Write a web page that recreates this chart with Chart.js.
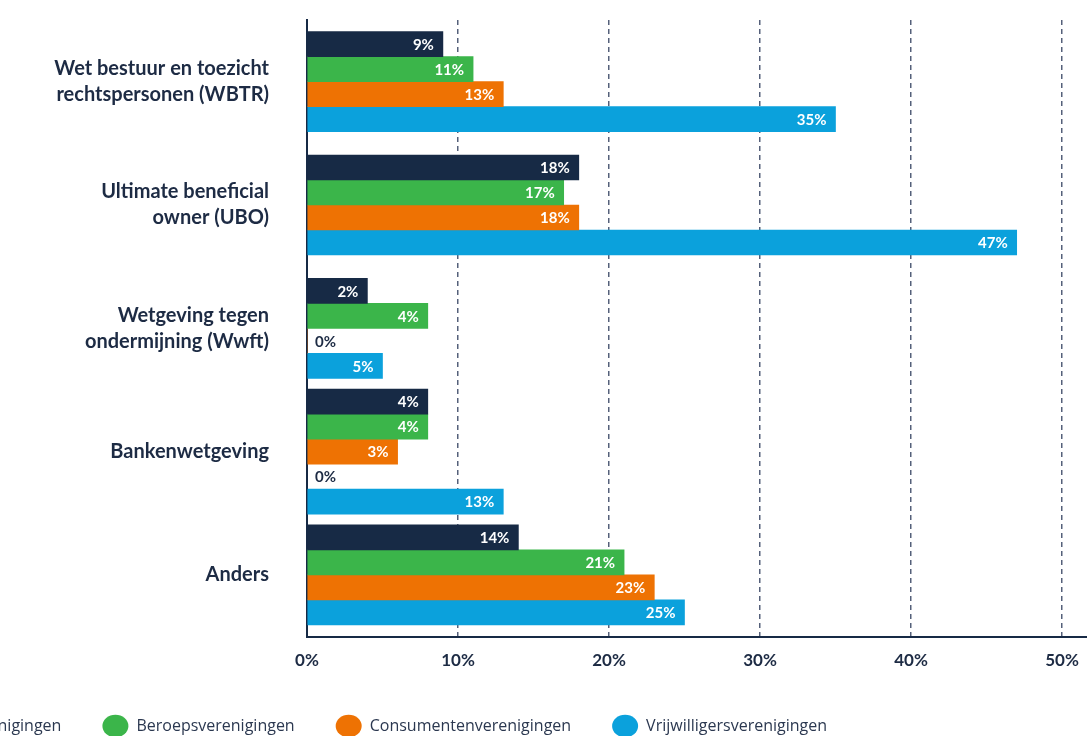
<!DOCTYPE html>
<html>
<head>
<meta charset="utf-8">
<script src="https://cdn.jsdelivr.net/npm/chart.js@4/dist/chart.umd.min.js"></script>
<style>
  html, body { margin: 0; padding: 0; background: #fff; }
  #frame { position: relative; width: 1087px; height: 736px; overflow: hidden; }
  #wrap { position: absolute; left: -164px; top: 0; width: 1377px; height: 736px; }
</style>
</head>
<body>
<div id="frame"><div id="wrap"><canvas id="regChart"></canvas></div></div>
<script>
const categories = [
  ['Wet bestuur en toezicht', 'rechtspersonen (WBTR)'],
  ['Ultimate beneficial', 'owner (UBO)'],
  ['Wetgeving tegen', 'ondermijning (Wwft)'],
  'Bankenwetgeving',
  'Anders'
];
// bar lengths as drawn in the picture
const branche = [9, 18, 4, 8, 14];
const beroeps = [11, 17, 8, 8, 21];
const consumenten = [13, 18, 0, 6, 23];
const extraRow = [null, null, null, 0, null];
const vrijwilligers = [35, 47, 5, 13, 25];
// percentages printed on the bars
const brancheLabels = [9, 18, 2, 4, 14];
const beroepsLabels = [11, 17, 4, 4, 21];
const consumentenLabels = [13, 18, 0, 3, 23];
const extraLabels = [null, null, null, 0, null];
const vrijwilligersLabels = [35, 47, 5, 13, 25];
const xTicks = [0, 10, 20, 30, 40, 50, 60];

const navy = '#172a45';
const textColor = '#1d2b44';

// value labels at the end of each bar
const barLabels = {
  id: 'barLabels',
  afterDatasetsDraw(chart) {
    const ctx = chart.ctx;
    ctx.save();
    ctx.font = 'bold 15px Lato';
    ctx.textBaseline = 'middle';
    chart.data.datasets.forEach((ds, i) => {
      const meta = chart.getDatasetMeta(i);
      meta.data.forEach((bar, j) => {
        const v = ds.data[j];
        if (v === null || v === undefined) return;
        const txt = ds.valueLabels[j] + '%';
        if (v > 0) {
          ctx.fillStyle = '#fff';
          ctx.textAlign = 'right';
          ctx.fillText(txt, bar.x - 9, bar.y + 1);
        } else {
          ctx.fillStyle = textColor;
          ctx.textAlign = 'left';
          ctx.fillText(txt, bar.base + 8, bar.y + 1);
        }
      });
    });
    ctx.restore();
  }
};

new Chart('regChart', {
  type: 'bar',
  data: {
    labels: categories,
    datasets: [
      { label: 'Brancheverenigingen', data: branche, valueLabels: brancheLabels, backgroundColor: navy },
      { label: 'Beroepsverenigingen', data: beroeps, valueLabels: beroepsLabels, backgroundColor: '#3bb54a' },
      { label: 'Consumentenverenigingen', data: consumenten, valueLabels: consumentenLabels, backgroundColor: '#ee7203' },
      { label: '', data: extraRow, valueLabels: extraLabels, backgroundColor: navy },
      { label: 'Vrijwilligersverenigingen', data: vrijwilligers, valueLabels: vrijwilligersLabels, backgroundColor: '#0ba1dc' }
    ]
  },
  options: {
    indexAxis: 'y',
    responsive: true,
    maintainAspectRatio: false,
    animation: false,
    skipNull: true,
    datasets: { bar: { barThickness: 25 } },
    layout: { padding: { top: 20, right: 0, bottom: -8, left: 0 } },
    plugins: {
      tooltip: { enabled: false },
      legend: {
        position: 'bottom',
        align: 'start',
        labels: {
          filter: item => item.text !== '',
          generateLabels: chart => Chart.defaults.plugins.legend.labels.generateLabels(chart)
            .map(item => ({ ...item, text: item.text ? item.text + '\u2002' : '' })),
          usePointStyle: true,
          pointStyle: 'circle',
          boxHeight: 19,
          pointStyleWidth: 26,
          padding: 33,
          color: '#2b3850',
          font: { family: 'Open Sans', size: 16 }
        }
      }
    },
    scales: {
      x: {
        min: 0,
        max: 60,
        afterBuildTicks: axis => { axis.ticks = xTicks.map(v => ({ value: v })); },
        afterFit: axis => { axis.paddingLeft = 0; axis.paddingRight = 0; },
        grid: { color: '#55607a', lineWidth: 1.5, drawTicks: false },
        border: { display: true, color: navy, width: 2, dash: [5, 4] },
        ticks: {
          padding: 14,
          color: textColor,
          font: { family: 'Lato', size: 17, weight: 'bold' },
          callback: value => value + '%'
        }
      },
      y: {
        afterFit: axis => { axis.width = 471; axis.paddingTop = 0; axis.paddingBottom = 0; },
        grid: { display: false, drawTicks: false },
        border: { display: true, color: navy, width: 2 },
        ticks: {
          padding: 38,
          color: textColor,
          font: { family: 'Lato', size: 20, weight: 'bold', lineHeight: 1.3 }
        }
      }
    }
  },
  plugins: [barLabels]
});
</script>
</body>
</html>
